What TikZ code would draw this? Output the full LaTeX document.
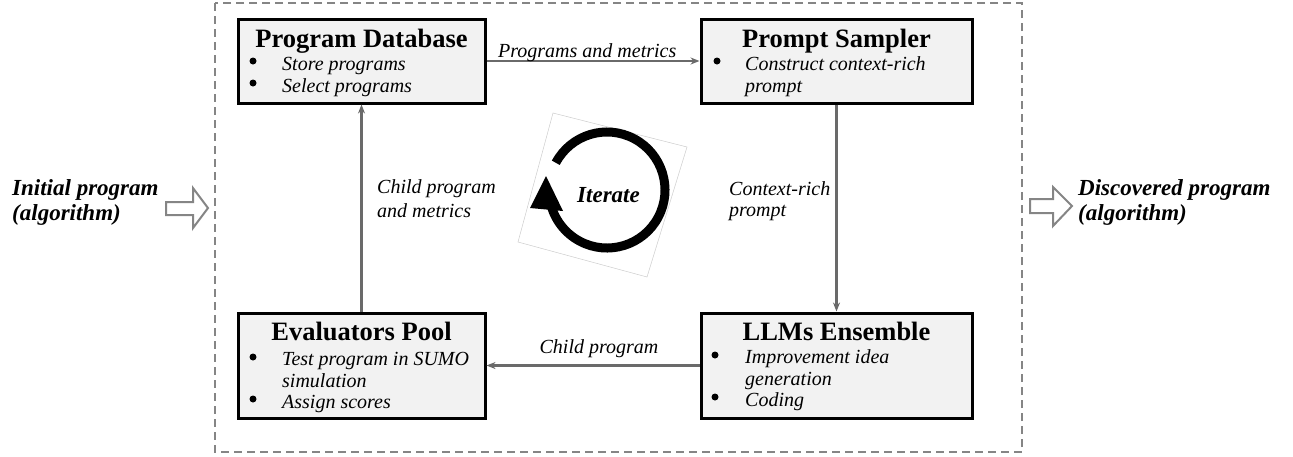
\documentclass[tikz,border=0pt]{standalone}
\usepackage{fontspec}
\setmainfont{Liberation Serif}
\usetikzlibrary{arrows.meta}
\definecolor{boxfill}{HTML}{F2F2F2}
\definecolor{conngray}{HTML}{6A6A6A}
\definecolor{dashgray}{HTML}{858585}
\definecolor{hollowgray}{HTML}{858585}
\newcommand\ttlfont{\fontsize{26.5}{30}\selectfont\bfseries}
\newcommand\bodfont{\fontsize{20}{22}\selectfont\itshape}
\newcommand\sidefont{\fontsize{23}{25}\selectfont\bfseries\itshape}
\tikzset{
  box/.style={draw=black, line width=3pt, fill=boxfill, rectangle, inner sep=0pt},
  conn/.style={draw=conngray, line width=2.4pt, -{Stealth[length=9pt,width=7pt]}},
  ttl/.style={inner sep=0pt, anchor=base, font=\ttlfont},
  bod/.style={inner sep=0pt, anchor=base west, align=left, font=\bodfont},
  lbl/.style={inner sep=0pt, anchor=base west, align=left, font=\bodfont},
  side/.style={inner sep=0pt, anchor=base west, align=left, font=\sidefont},
  bul/.style={fill=black},
  hollow/.style={draw=hollowgray, line width=2pt, fill=white, line join=miter},
}
\begin{document}
\begin{tikzpicture}[x=1pt,y=-1pt]
\path[use as bounding box] (0,0) rectangle (1293,456);
% outer dashed frame
\draw[dashgray, line width=2pt, dash pattern=on 8pt off 5pt] (215,3) rectangle (1022,452);
% boxes
\node[box, minimum width=247pt, minimum height=84pt] (pd) at (361.5,61) {};
\node[box, minimum width=271pt, minimum height=84pt] (ps) at (836.5,61) {};
\node[box, minimum width=247pt, minimum height=105pt] (ev) at (361.5,365.5) {};
\node[box, minimum width=271pt, minimum height=105pt] (llm) at (836.5,365.5) {};
% titles
\node[ttl] (pdt) at (361.5,47) {Program Database};
\node[ttl] (pst) at (836.5,47) {Prompt Sampler};
\node[ttl] (evt) at (361.5,340) {Evaluators Pool};
\node[ttl] (llmt) at (836.5,340) {LLMs Ensemble};
% body texts (multi-line nodes: base = last line)
\node[bod] (pd1) at (282,70) {Store programs};
\node[bod] (pd2) at (282,92) {Select programs};
\node[bod] (ps1) at (745,92) {Construct context-rich\\prompt};
\node[bod] (ev1) at (282,387) {Test program in SUMO\\simulation};
\node[bod] (ev2) at (282,408) {Assign scores};
\node[bod] (llm1) at (745,385) {Improvement idea\\generation};
\node[bod] (llm2) at (745,406) {Coding};
% bullets
\fill[bul] (253,61) circle (3.5);
\fill[bul] (253,83) circle (3.5);
\fill[bul] (717,61) circle (3.5);
\fill[bul] (253,357) circle (3.5);
\fill[bul] (253,399) circle (3.5);
\fill[bul] (715,355) circle (3.5);
\fill[bul] (715,397) circle (3.5);
% connectors
\draw[conn] (pd.east) -- (ps.west);
\draw[conn] (ps.south) -- (llm.north);
\draw[conn] (llm.west) -- (ev.east);
\draw[conn] (ev.north) -- (pd.south);
% connector labels
\node[lbl] (l1) at (498,57) {Programs and metrics};
\node[lbl, font=\fontsize{20}{21}\selectfont\itshape] (l2) at (729,216) {Context-rich\\prompt};
\node[lbl, anchor=base] (l3) at (599,353) {Child program};
\node[lbl, font=\fontsize{20}{24}\selectfont\itshape] (l4) at (377,217) {Child program\\and metrics};
% iterate symbol
\draw[black!20, line width=0.5pt] (553,113) -- (687,147) -- (647,277) -- (518,242) -- cycle;
\draw[black, line width=9pt] (607,190) ++(-152:58) arc[start angle=-152, end angle=168, radius=58];
\fill[black] (546,176) -- (563,211) -- (530,208) -- cycle;
\node[inner sep=0pt, anchor=base, font=\fontsize{23}{25}\selectfont\bfseries\itshape] (it) at (608.5,202) {Iterate};
% input / output
\node[side] (inp) at (12,220) {Initial program\\(algorithm)};
\node[side] (outp) at (1078,220) {Discovered program\\(algorithm)};
\draw[hollow] (166,202) -- (193,202) -- (193,188) -- (208,208) -- (193,228) -- (193,215) -- (166,215) -- cycle;
\draw[hollow] (1030,199) -- (1053,199) -- (1053,187) -- (1072,206) -- (1053,226) -- (1053,213) -- (1030,213) -- cycle;
\end{tikzpicture}
\end{document}
